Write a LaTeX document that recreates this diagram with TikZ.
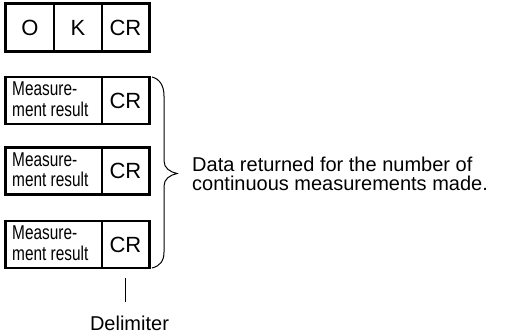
\documentclass[tikz,border=0pt]{standalone}
\usepackage{fontspec}
\setmainfont{Liberation Sans}
\begin{document}
\begin{tikzpicture}[x=1pt,y=-1pt,
  cell/.style={draw,line width=1.3pt,inner sep=0pt,minimum height=#1,font=\fontsize{22}{22}\selectfont},
  cell/.default=47pt,
  outer/.style={line width=1.8pt},
  mtext/.style={inner sep=0pt,anchor=west,align=left,font=\fontsize{20}{20}\selectfont},
  note/.style={inner sep=0pt,font=\fontsize{20}{19}\selectfont},
  thin/.style={line width=1pt}]
\useasboundingbox (0,0) rectangle (507,335);
% OK box
\node[cell, minimum width=48pt] (o) at (30,27.5) {O};
\node[cell, minimum width=48pt] (k) at (78,27.5) {K};
\node[cell, minimum width=47pt] (cr0) at (125.5,27.5) {CR};
\draw[outer] (o.north west) rectangle (cr0.south east);
% measurement boxes
\foreach \i/\cy in {1/100.5, 2/171, 3/244.5} {
  \node[cell=46pt, minimum width=96pt] (m\i) at (54,\cy) {};
  \node[cell=46pt, minimum width=47pt] (c\i) at (125.5,\cy) {CR};
  \draw[outer] (m\i.north west) rectangle (c\i.south east);
  \node[mtext] (t\i) at (12,\cy+1.5) {\scalebox{0.77}[1]{\begin{tabular}{@{}l@{}}Measure-\\ment result\end{tabular}}};
}
% brace
\draw[thin] (152,77) .. controls (160,79) and (164,86) .. (164,96) -- (164,161)
  .. controls (164,168) and (170,172) .. (177,173.5)
  .. controls (170,175) and (164,179) .. (164,186) -- (164,252)
  .. controls (164,261) and (160,266) .. (152,268);
\node[note, anchor=west, align=left] (data) at (192,174) {Data returned for the number of\\continuous measurements made.};
% delimiter
\node[note, anchor=base] (delim) at (129.5,330) {Delimiter};
\coordinate (dtop) at ([yshift=-10pt]c3.south);
\draw[thin] (dtop) -- ++(0,24);
\end{tikzpicture}
\end{document}
